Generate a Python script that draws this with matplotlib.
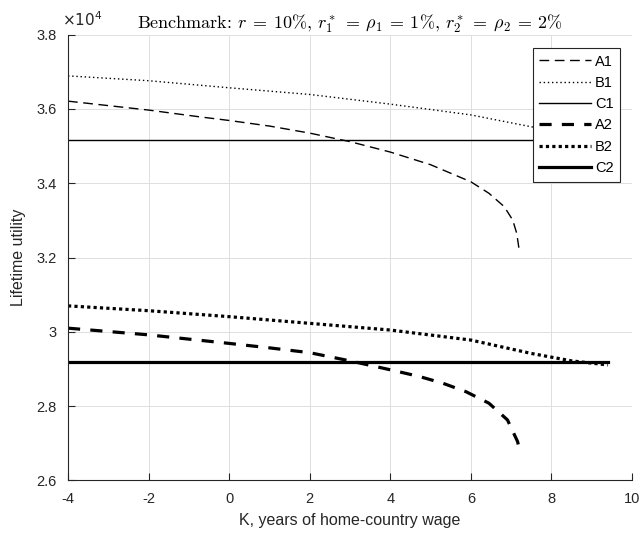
import matplotlib
matplotlib.use("Agg")
import matplotlib.pyplot as plt
from matplotlib.ticker import FuncFormatter

plt.rcParams["font.family"] = ["Liberation Sans", "DejaVu Sans"]
plt.rcParams["axes.unicode_minus"] = False

# K, years of home-country wage
k_a1 = [-4, -2, -0.75, 0, 1, 2, 3, 4, 5, 6, 6.45, 6.83, 7.04, 7.14, 7.2]
k_a2 = [-4, -2, 0, 1, 2, 3, 4, 4.72, 5.3, 5.88, 6.45, 6.91, 7.16, 7.2]
k_b = [-4, -2, 0, 2, 4, 6, 7.5, 8.5, 9.4]
k_c = [-4, 9.4]

# lifetime utility
a1 = [36210, 35970, 35790, 35690, 35540, 35350, 35120, 34840, 34500, 34040,
      33730, 33370, 33010, 32650, 32210]
b1 = [36890, 36760, 36570, 36390, 36130, 35840, 35520, 35320, 35130]
c1 = [35157, 35157]
a2 = [30100, 29920, 29690, 29570, 29440, 29220, 28980, 28800, 28620, 28390,
      28080, 27630, 27050, 26870]
b2 = [30700, 30570, 30410, 30230, 30050, 29780, 29420, 29220, 29110]
c2 = [29200, 29200]

x_ticks = [-4, -2, 0, 2, 4, 6, 8, 10]
y_ticks = [26000, 28000, 30000, 32000, 34000, 36000, 38000]

fig = plt.figure(figsize=(6.43, 5.33), dpi=100)
ax = fig.add_axes([0.1058, 0.0985, 0.877, 0.8365])

thin = 1.0
thick = 2.3
ax.plot(k_a1, a1, color="black", lw=thin, dashes=(7, 4), label="A1")
ax.plot(k_b, b1, color="black", lw=thin, dashes=(1, 2), label="B1")
ax.plot(k_c, c1, color="black", lw=thin, label="C1")
ax.plot(k_a2, a2, color="black", lw=thick, dashes=(3.8, 3.2), label="A2")
ax.plot(k_b, b2, color="black", lw=thick, dashes=(1, 1), label="B2")
ax.plot(k_c, c2, color="black", lw=thick, label="C2")

ax.set_xlim(-4, 10)
ax.set_ylim(26000, 38000)
ax.set_xticks(x_ticks)
ax.set_yticks(y_ticks)
ax.yaxis.set_major_formatter(FuncFormatter(lambda v, p: "%g" % (v / 1e4)))
ax.grid(True, color="#dedede", lw=0.7)
ax.set_axisbelow(True)
for s in ["top", "right"]:
    ax.spines[s].set_visible(False)
for s in ["left", "bottom"]:
    ax.spines[s].set_color("#262626")
    ax.spines[s].set_linewidth(0.8)
ax.tick_params(direction="in", length=5, width=0.8, colors="#262626",
               labelsize=10.5, pad=8)

ax.set_xlabel("K, years of home-country wage", fontsize=11.5, color="#262626", labelpad=5)
ax.set_ylabel("Lifetime utility", fontsize=11.5, color="#262626", labelpad=8)

ax.text(-0.01, 1.012, r"$\times10^{4}$", transform=ax.transAxes, fontsize=11,
        color="#262626", ha="left", va="bottom", math_fontfamily="dejavusans")
ax.set_title(r"Benchmark: $r\:=\:10\%$, $r_1^*\:=\:\rho_1\:=\:1\%$, $r_2^*\:=\:\rho_2\:=\:2\%$",
             fontsize=13, family="cmr10", math_fontfamily="cm", pad=4)

leg = ax.legend(loc="upper right", bbox_to_anchor=(0.979, 0.970), borderaxespad=0,
                fontsize=10.5, handlelength=3.5, labelspacing=0.5,
                fancybox=False, framealpha=1, edgecolor="#262626",
                handletextpad=0.3, borderpad=0.45)
leg.get_frame().set_linewidth(0.8)

fig.savefig("out.png", dpi=100)
